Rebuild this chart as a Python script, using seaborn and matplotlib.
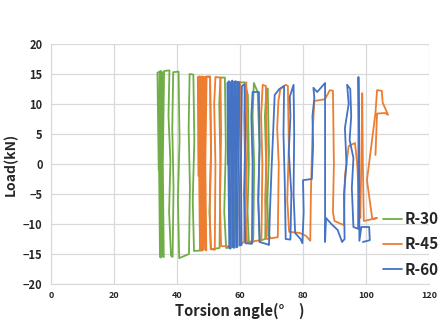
import pandas as pd
import matplotlib
matplotlib.use("Agg")
import matplotlib.pyplot as plt
import seaborn as sns

# hysteresis paths (torsion angle in deg, load in kN)
r30_angle = [34.2, 33.8, 34.5, 34.3, 34.6, 34.9, 34.5, 34.8, 35.3, 35.0, 35.4, 35.8, 35.5, 35.9,
             37.6, 37.3, 37.9, 37.5, 38.1, 38.6, 38.9, 38.5, 38.8, 40.5, 40.8, 40.3, 40.7,
             43.8, 44.1, 43.7, 44.0, 45.2, 45.5, 45.0, 45.4, 48.0, 48.3, 47.8, 48.2,
             50.5, 50.8, 50.3, 50.8, 53.5, 53.8, 53.4, 53.8, 55.2, 55.5, 55.0, 55.6,
             58.3, 58.5, 58.2, 58.5, 61.5, 62.5, 62.8, 62.4, 62.8, 64.2, 64.5, 64.0, 64.4,
             65.6, 66.2, 65.8, 66.3, 68.0, 68.3, 67.9, 68.4, 68.8, 69.2, 68.7, 69.0, 69.6]
r30_load = [-1.0, 15.2, 15.4, 0.5, -15.5, -15.6, 2.0, 15.5, 15.3, -3.0, -15.4, -15.5, 0.0, 15.5,
            15.6, 8.0, 0.5, -8.0, -15.3, -15.5, -4.0, 6.0, 15.3, 15.4, 4.0, -6.0, -15.7,
            -15.0, -4.0, 6.0, 15.0, 14.9, 4.0, -6.0, -14.5, -14.4, 0.0, 10.0, 14.5,
            14.5, 2.0, -8.0, -14.2, -14.0, 0.0, 10.0, 14.4, 14.4, 3.0, -8.0, -14.0,
            -13.8, 0.0, 10.0, 13.6, 13.6, 11.5, 0.0, -8.0, -13.2, -13.0, 0.0, 8.0, 13.5,
            12.0, 3.0, -6.0, -12.8, -12.5, 0.0, 8.0, 12.3, 12.6, 2.0, -6.0, -12.0, -12.2]

r45_angle = [46.8, 46.6, 47.2, 47.0, 47.3, 47.6, 47.3, 47.5, 48.0, 47.8, 48.1, 48.4, 48.2, 48.5,
             48.9, 48.6, 49.0, 49.3, 49.0, 49.4, 50.5, 50.8, 50.4, 50.7, 52.0, 52.2, 51.8, 52.2,
             53.8, 54.0, 53.6, 54.0, 57.2, 57.5, 57.2, 57.6, 60.0, 60.3, 59.8, 60.2,
             61.3, 61.6, 61.3, 61.7, 62.0, 62.3, 61.8, 62.2, 66.8, 67.1, 66.7, 67.2,
             68.2, 68.5, 68.0, 68.4, 72.0, 72.3, 71.8, 72.2, 72.8, 74.5, 75.2, 75.5, 75.0, 75.6,
             79.0, 81.0, 82.3, 82.5, 83.0, 83.6, 87.0, 88.5, 89.5, 89.8, 89.5, 90.0,
             93.0, 93.3, 94.5, 96.5, 97.2, 97.8, 98.2, 98.5, 98.8, 99.0, 99.3,
             101.0, 103.5, 102.0, 100.3, 103.0, 103.5, 105.0, 105.3, 107.0, 106.0, 103.5, 103.0]
r45_load = [-2.0, 14.5, 14.6, 0.0, -14.3, -14.2, 0.0, 14.5, 14.6, 0.0, -14.4, -14.2, 0.0, 14.5,
            14.5, 0.0, -14.3, -14.4, 0.0, 14.6, 14.6, 2.0, -8.0, -14.2, -14.3, 0.0, 10.0, 14.5,
            14.4, 5.0, -6.0, -13.7, -13.7, 0.0, 10.0, 13.6, 13.7, 2.0, -8.0, -13.3,
            -13.0, 0.0, 8.0, 13.5, 13.6, 3.0, -8.0, -13.0, -12.7, 0.0, 8.0, 13.2,
            13.0, 3.0, -6.0, -12.5, -12.2, 0.0, 6.0, 10.5, 12.5, 13.2, 13.0, 3.0, -6.0, -11.3,
            -11.5, -12.0, -12.8, -5.0, 5.0, 10.5, 10.8, 12.3, 12.2, 0.0, -8.0, -9.5,
            -10.2, -2.0, 3.0, 3.5, 0.0, -6.0, -9.0, 0.0, 11.8, 0.0, -9.5,
            -9.3, -9.0, -9.2, -2.7, 8.5, 12.3, 12.2, 10.2, 8.2, 8.5, 8.4, 1.5]

r60_angle = [56.2, 56.0, 56.5, 56.3, 56.6, 57.0, 56.8, 57.1, 57.6, 57.4, 57.7, 58.1, 57.9, 58.2,
             58.7, 58.5, 58.8, 59.2, 59.0, 59.3, 59.8, 59.6, 59.9, 60.5, 60.3, 60.6, 61.4, 61.7,
             61.3, 61.7, 63.8, 64.0, 63.6, 64.0, 66.0, 66.2, 65.8, 66.2, 68.8, 69.2, 69.5, 70.0,
             70.5, 71.0, 72.5, 74.0, 73.8, 74.2, 74.5, 76.0, 76.3, 75.5, 76.0, 75.8, 77.0, 77.2,
             77.0, 77.5, 79.2, 79.8, 80.2, 80.0, 82.8, 83.2, 83.0, 83.6, 83.3, 84.5, 87.0, 87.0,
             87.3, 89.0, 91.0, 92.4, 93.2, 93.0, 93.8, 93.3, 94.5, 94.0, 95.0, 95.3, 94.8, 96.0,
             95.5, 96.0, 97.5, 97.6, 97.6, 97.8, 97.9, 98.5, 101.0, 101.2, 99.0]
r60_load = [0.0, 13.5, 13.8, 0.0, -14.0, -14.1, 0.0, 13.6, 13.9, 0.0, -13.8, -14.0, 0.0, 13.7,
            13.8, 0.0, -13.9, -13.8, 0.0, 13.7, 13.5, 0.0, -13.6, -13.5, 0.0, 13.0, 13.3, 5.0,
            -5.0, -13.2, -13.3, 0.0, 8.0, 12.0, 12.0, 3.0, -6.0, -13.0, -13.4, -13.5, -8.0, -1.0,
            5.0, 11.5, 12.5, 13.0, 5.0, -3.0, -12.5, -12.6, -5.0, 2.0, 8.0, 11.2, 13.2, 5.0,
            -5.0, -11.5, -12.5, -13.2, -8.0, -2.7, -2.5, 3.0, 8.0, 11.0, 12.7, 12.0, 13.5, -13.0,
            -9.0, -10.0, -11.0, -13.0, -12.5, -5.0, 0.0, 6.0, 10.0, 13.2, 12.5, 8.0, 4.0, 1.0,
            -4.0, -10.5, -10.8, 3.0, 14.5, 3.0, -12.8, -10.5, -10.5, -12.7, -13.0]

series_names = ["R-30", "R-45", "R-60"]
series_colors = ["#70AD47", "#ED7D31", "#4472C4"]

sns.set_style("whitegrid", {"grid.color": "#D9D9D9", "axes.edgecolor": "#D9D9D9"})
plt.rcParams['font.family'] = ['Noto Sans CJK JP', 'DejaVu Sans']

fig = plt.figure(figsize=(4.38, 3.29), dpi=100)
ax = fig.add_axes([0.1164, 0.1368, 0.8631, 0.7295])

paths = [(r30_angle, r30_load), (r45_angle, r45_load), (r60_angle, r60_load)]
for (xs, ys), name, col in zip(paths, series_names, series_colors):
    df = pd.DataFrame({"angle": xs, "load": ys})
    sns.lineplot(data=df, x="angle", y="load", sort=False, estimator=None,
                 color=col, linewidth=1.3, label=name, ax=ax)

ax.set_xlim(0, 120)
ax.set_ylim(-20, 20)
ax.set_xticks(range(0, 121, 20))
ax.set_yticks(range(-20, 21, 5))
ax.tick_params(length=0)
for lab in ax.get_xticklabels():
    lab.set_fontsize(6.5)
    lab.set_fontweight('bold')
for lab in ax.get_yticklabels():
    lab.set_fontsize(8)
    lab.set_fontweight('bold')
ax.tick_params(axis='x', pad=5)
ax.tick_params(axis='y', pad=6)
for s in ax.spines.values():
    s.set_visible(False)
ax.spines['left'].set_visible(True)
ax.spines['bottom'].set_visible(True)
ax.grid(True, linewidth=0.9)

ax.set_xlabel("Torsion angle(°\u3000)", fontsize=10.5, fontweight='bold', labelpad=2)
ax.set_ylabel("Load(kN)", fontsize=10, fontweight='bold', labelpad=4)

handles, labels = ax.get_legend_handles_labels()
ax.get_legend().remove()
fig.legend(handles, labels, loc='upper left', bbox_to_anchor=(0.874, 0.358),
           bbox_transform=fig.transFigure, frameon=False, borderpad=0, borderaxespad=0,
           handlelength=1.25, handletextpad=0.15, labelspacing=0.6,
           prop={'size': 11, 'weight': 'bold'})

fig.savefig("out.png", dpi=100)
